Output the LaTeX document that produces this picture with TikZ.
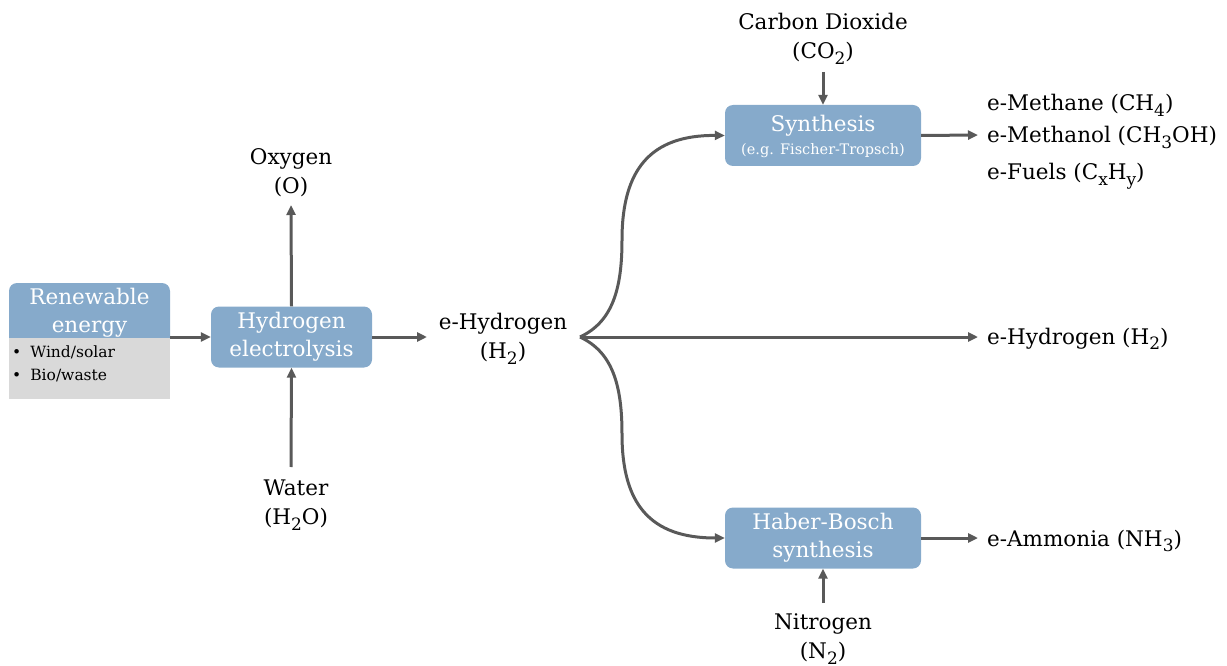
\documentclass[tikz,border=0pt]{standalone}
\usepackage{fontspec}
\setmainfont{DejaVu Serif}
\usetikzlibrary{arrows.meta}
\definecolor{boxblue}{RGB}{134,170,203}
\definecolor{boxgrey}{RGB}{217,217,217}
\definecolor{arrowgrey}{RGB}{89,89,89}
\newcommand{\chs}[1]{\raisebox{-0.5ex}{\fontsize{17}{17}\selectfont #1}}
\begin{document}
\begin{tikzpicture}[x=1pt,y=-1pt,
  txt/.style={font=\fontsize{21.5}{29}\selectfont, align=center, inner sep=0pt},
  outtxt/.style={font=\fontsize{21.5}{29}\selectfont, anchor=base west, inner sep=0pt},
  boxtxt/.style={font=\fontsize{21.5}{28}\selectfont, text=white, align=center, inner sep=0pt},
  procbox/.style={fill=boxblue, rounded corners=8pt, minimum width=#1, minimum height=61pt, inner sep=0pt},
  conn/.style={draw=arrowgrey, line width=3pt, -{Triangle[length=10pt,width=9pt]}}
]
\useasboundingbox (0,0) rectangle (1227,666);

% Renewable energy
\fill[boxgrey] (9,337) rectangle (170,399);
\begin{scope}
\clip (0,0) rectangle (1227,337);
\fill[boxblue, rounded corners=8pt] (9,283) rectangle (170,345);
\node[boxtxt] (ren) at (89.5,313) {Renewable\\energy};
\end{scope}
\coordinate (renout) at (170,337);
\node[font=\fontsize{15.5}{23}\selectfont, anchor=north west, align=left, inner sep=0pt] (bul) at (12,346) {\textbullet\hspace{9pt}Wind/solar\\\textbullet\hspace{9pt}Bio/waste};

% Hydrogen electrolysis
\node[procbox=161pt] (hel) at (291.5,337) {};
\node[boxtxt] at (hel) {Hydrogen\\electrolysis};

\node[txt] (oxy) at (291,173) {Oxygen\\(O)};
\node[txt] (wat) at (296,505) {Water\\(H\chs{2}O)};
\node[txt] (eh) at (503,339) {e-Hydrogen\\(H\chs{2})};
\coordinate (br) at (580,337);

% Synthesis
\node[procbox=196pt] (syn) at (823,135.5) {};
\node[boxtxt, font=\fontsize{21.5}{21}\selectfont] at (823,126) {Synthesis};
\node[boxtxt, font=\fontsize{14.5}{15}\selectfont] at (823,151) {(e.g. Fischer-Tropsch)};
\node[txt] (co2) at (823,39) {Carbon Dioxide\\(CO\chs{2})};

% Haber-Bosch
\node[procbox=196pt] (hb) at (823,538) {};
\node[boxtxt] at (hb) {Haber-Bosch\\synthesis};
\node[txt] (nit) at (823,639) {Nitrogen\\(N\chs{2})};

% outputs
\node[outtxt] (meth) at (987,111) {e-Methane (CH\chs{4})};
\node[outtxt] (mol) at (987,143) {e-Methanol (CH\chs{3}OH)};
\node[outtxt] (fuel) at (987,180) {e-Fuels (C\chs{x}H\chs{y})};
\node[outtxt] (h2out) at (987,344) {e-Hydrogen (H\chs{2})};
\node[outtxt] (nh3) at (987,546) {e-Ammonia (NH\chs{3})};

% connectors
\draw[conn] (renout) -- (hel.west);
\draw[conn] (hel.north) -- (291,205);
\draw[conn] (291,467) -- (hel.south);
\draw[conn] (hel.east) -- (427,337);
\draw[conn] (br) -- (978,337);
\draw[conn] (br) .. controls (612,322) and (622,290) .. (622,240) .. controls (622,170) and (650,135) .. (syn.west);
\draw[conn] (br) .. controls (612,352) and (622,384) .. (622,434) .. controls (622,504) and (650,538) .. (hb.west);
\draw[conn] (823,72) -- (syn.north);
\draw[conn] (823,603) -- (hb.south);
\draw[conn] (syn.east) -- (978,135);
\draw[conn] (hb.east) -- (978,538);
\end{tikzpicture}
\end{document}
